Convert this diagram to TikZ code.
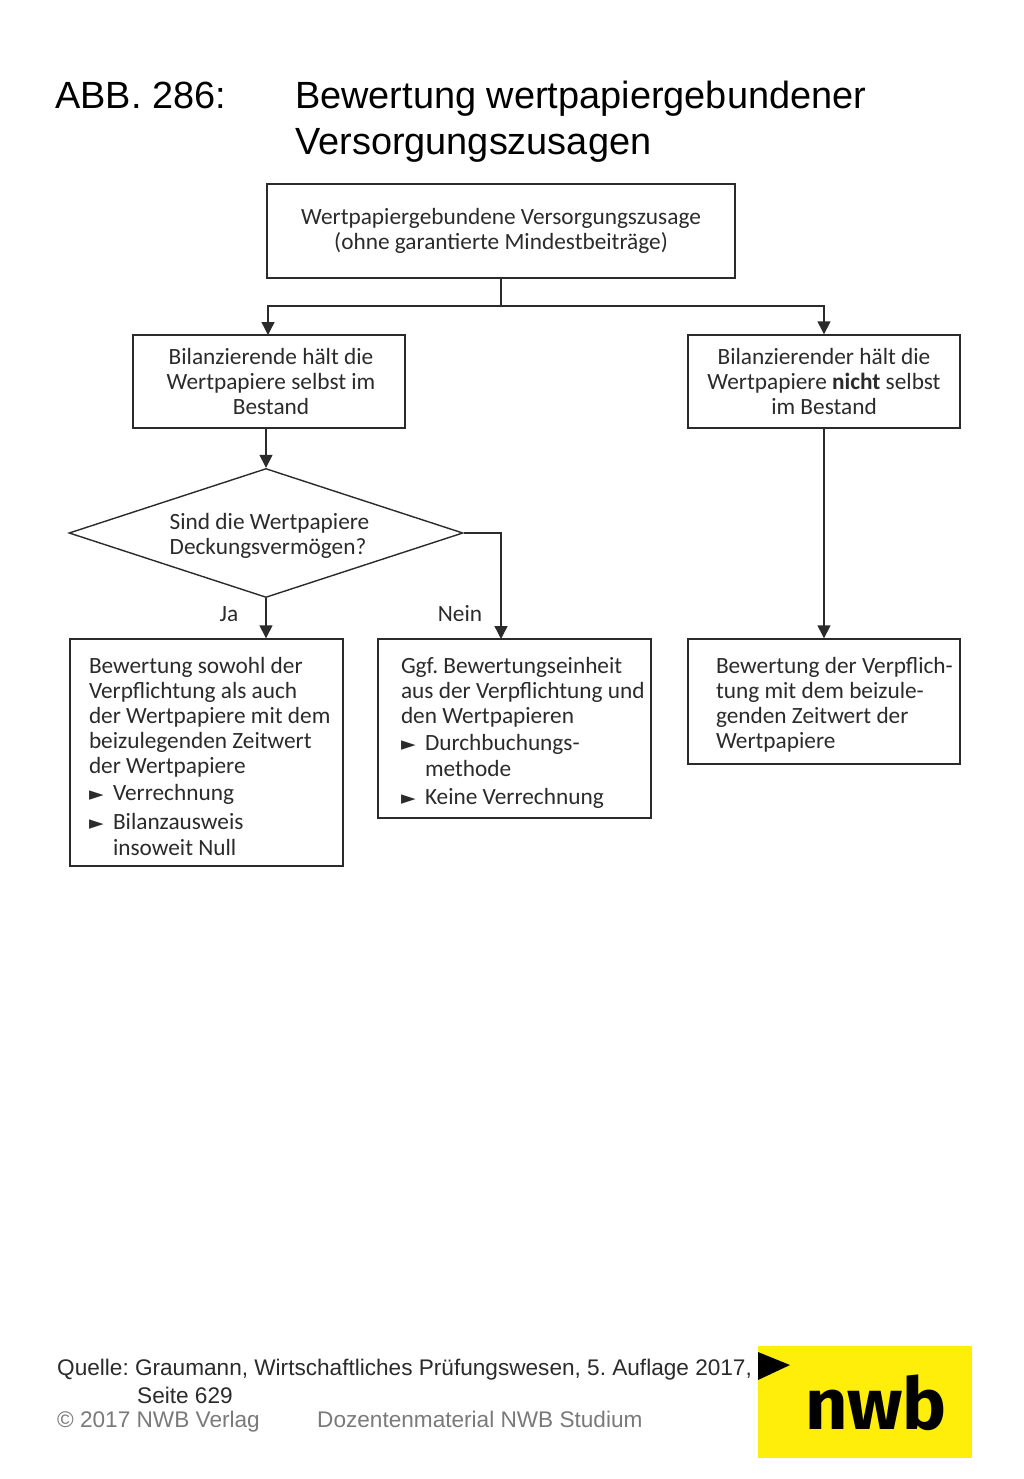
\documentclass[tikz,border=0pt]{standalone}
\usepackage{fontspec}
\setmainfont{Liberation Sans}
\newfontfamily\boxfont{Carlito}
\newfontfamily\logofont{Fira Sans}
\newfontfamily\symfont{DejaVu Sans}
\usetikzlibrary{arrows.meta,shapes.geometric}
\definecolor{ink}{HTML}{2B2B2B}
\definecolor{logoyellow}{HTML}{FFED0A}
\definecolor{footgray}{HTML}{7A7A7A}
\frenchspacing
\newcommand{\bul}{\makebox[24pt][l]{\smash{\symfont\fontsize{19}{19}\selectfont ►}}}
\newcommand{\ind}{\makebox[24pt][l]{}}
\newcommand{\topgap}[1]{\rule{0pt}{#1pt}}
\tikzset{
  flowbox/.style={draw=ink,line width=1.4pt,rectangle,inner sep=0pt,text=ink,
    font=\boxfont\frenchspacing\fontsize{23.3}{25}\selectfont},
  leftbox/.style={flowbox,align=flush left},
  centerbox/.style={flowbox,align=center},
  decision/.style={draw=ink,line width=1.4pt,diamond,aspect=3,inner sep=0pt,text=ink,align=flush left,
    font=\boxfont\frenchspacing\fontsize{23.3}{25}\selectfont,minimum width=394pt,minimum height=129pt},
  conn/.style={draw=ink,line width=1.4pt},
  arr/.style={conn,-{Triangle[length=13pt,width=13pt]}},
  edgelabel/.style={text=ink,font=\boxfont\fontsize{23.3}{25}\selectfont,inner sep=0pt},
  titletext/.style={anchor=base west,inner sep=0pt,text=black,font=\frenchspacing\fontsize{37.9}{40}\selectfont},
  foot/.style={anchor=base west,inner sep=0pt,text=ink,font=\frenchspacing\fontsize{22.6}{25}\selectfont},
  footg/.style={foot,text=footgray},
}
\begin{document}
\begin{tikzpicture}[x=1pt,y=-1pt]
\useasboundingbox (0,0) rectangle (1024,1479);
\fill[white] (0,0) rectangle (1024,1479);
\node[titletext] (t1) at (55,109) {ABB. 286:};
\node[titletext] (t2) at (295,109) {Bewertung wertpapiergebundener};
\node[titletext] (t3) at (295,155) {Versorgungszusagen};

\node[centerbox,minimum width=468pt,minimum height=94pt] (top) at (501,231)
  {Wertpapiergebundene Versorgungszusage\\(ohne garantierte Mindestbeiträge)};
\node[centerbox,minimum width=272pt,minimum height=93pt] (l) at (269,381.5)
  {\hspace*{4pt}Bilanzierende hält die\\\hspace*{4pt}Wertpapiere selbst im\\\hspace*{4pt}Bestand};
\node[centerbox,minimum width=272pt,minimum height=93pt] (r) at (824,381.5)
  {Bilanzierender hält die\\Wertpapiere \textbf{nicht} selbst\\im Bestand};
\node[decision] (d) at (266,533) {\topgap{22}\hspace*{7pt}Sind die Wertpapiere\\\hspace*{7pt}Deckungsvermögen?};
\node[leftbox,minimum width=273pt,minimum height=227pt,text width=235pt] (a) at (206.5,752.5)
  {\mbox{\topgap{25}Bewertung sowohl der}\\\mbox{Verpflichtung als auch}\\\mbox{der Wertpapiere mit dem}\\\mbox{beizulegenden Zeitwert}\\\mbox{der Wertpapiere}\\[2pt]\mbox{\bul Verrechnung}\\[4pt]\mbox{\bul Bilanzausweis}\\[1pt]\mbox{\ind insoweit Null}};
\node[leftbox,minimum width=273pt,minimum height=179pt,text width=227pt] (b) at (514.5,728.5)
  {\mbox{\topgap{25}Ggf. Bewertungseinheit}\\\mbox{aus der Verpflichtung und}\\\mbox{den Wertpapieren}\\[2pt]\mbox{\bul Durchbuchungs-}\\[1pt]\mbox{\ind methode}\\[3pt]\mbox{\bul Keine Verrechnung}};
\node[leftbox,minimum width=272pt,minimum height=125pt,text width=216pt] (c) at (824,701.5)
  {\mbox{\topgap{23}Bewertung der Verpflich-}\\\mbox{tung mit dem beizule-}\\\mbox{genden Zeitwert der}\\\mbox{Wertpapiere}};

\coordinate (split) at (501,306);
\coordinate (binp) at (501,639);
\coordinate (lin) at (268,335);
\draw[conn] (top.south) -- (split);
\draw[arr] (split) -| (lin);
\draw[arr] (split) -| (r.north);
\draw[arr] (l.south -| d.north) -- (d.north);
\draw[arr] (d.south) -- (d.south |- a.north);
\draw[arr] (d.east) -| (binp);
\draw[arr] (r.south) -- (r.south |- c.north);
\node[edgelabel] (ja) at (229,614) {Ja};
\node[edgelabel] (ne) at (460,614) {Nein};

\node[foot] (q1) at (57,1375) {Quelle: Graumann, Wirtschaftliches Prüfungswesen, 5. Auflage 2017,};
\node[foot] (q2) at (137,1403) {Seite 629};
\node[footg] (q3) at (57,1427) {© 2017 NWB Verlag};
\node[footg] (q4) at (317,1427) {Dozentenmaterial NWB Studium};

\fill[logoyellow] (758,1346) rectangle (972,1458);
\fill[black] (758,1352) -- (790,1365) -- (758,1380) -- cycle;
\node[anchor=base,inner sep=0pt,text=black,xscale=1.025,font=\logofont\bfseries\fontsize{72}{72}\selectfont] (logo) at (876,1429) {nwb};
\end{tikzpicture}
\end{document}
